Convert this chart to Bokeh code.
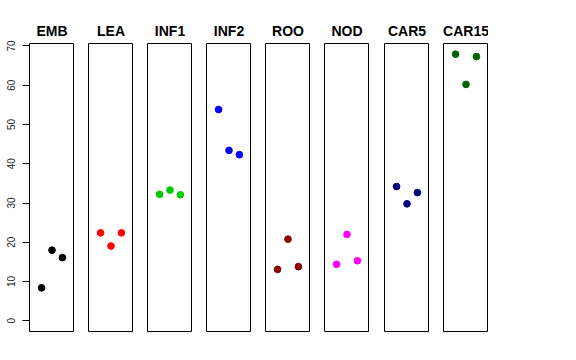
from bokeh.plotting import figure
from bokeh.layouts import row
from bokeh.models import Range1d, FixedTicker
from bokeh.embed import file_html
from bokeh.resources import INLINE

groups = ["EMB", "LEA", "INF1", "INF2", "ROO", "NOD", "CAR5", "CAR15"]
colors = ["#000000", "#FF0000", "#00CD00", "#0000FF", "#8B0000", "#FF00FF", "#000080", "#006400"]
replicate = [1, 2, 3]
emb = [8.4, 18.0, 16.1]
lea = [22.4, 19.05, 22.4]
inf1 = [32.2, 33.3, 32.1]
inf2 = [53.8, 43.4, 42.3]
roo = [13.1, 20.8, 13.8]
nod = [14.4, 22.0, 15.3]
car5 = [34.2, 29.8, 32.65]
car15 = [67.9, 60.2, 67.3]
series = [emb, lea, inf1, inf2, roo, nod, car5, car15]
y_ticks = [0, 10, 20, 30, 40, 50, 60, 70]

ymax = max(max(s) for s in series)
ymin = 0
yr = ymax - ymin

left_borders = [29, 14, 14, 14, 14, 14, 15, 14]

figs = []
for i, (g, c, vals) in enumerate(zip(groups, colors, series)):
    p = figure(
        frame_width=45, frame_height=288,
        output_backend="svg", toolbar_location=None,
        x_range=Range1d(-0.16, 4.16),
        y_range=Range1d(ymin - 0.04 * yr, ymax + 0.04 * yr),
        x_axis_location=None,
        y_axis_location="left" if i == 0 else None,
        min_border_left=left_borders[i], min_border_right=0,
        min_border_top=43, min_border_bottom=5,
        title=g,
    )
    p.title.align = "center"
    p.title.text_font = "Liberation Sans"
    p.title.text_font_style = "bold"
    p.title.text_font_size = "14px"
    p.title.text_color = "#000000"
    p.title.standoff = 9
    p.grid.visible = False
    p.outline_line_color = "#000000"
    p.outline_line_width = 1
    p.background_fill_color = "white"
    p.border_fill_color = "white"
    if i == 0:
        ax = p.yaxis[0]
        ax.ticker = FixedTicker(ticks=y_ticks)
        ax.major_label_orientation = "vertical"
        ax.major_label_text_font = "Liberation Sans"
        ax.major_label_text_font_size = "10px"
        ax.major_label_text_color = "#222222"
        ax.major_tick_out = 7
        ax.major_tick_in = 0
        ax.minor_tick_line_color = None
        ax.axis_line_color = None
        ax.major_tick_line_color = "#000000"
        ax.major_label_standoff = 7
    p.scatter(replicate, vals, size=6.7, color=c, line_color=c)
    figs.append(p)

layout = row(*figs, spacing=0)
open("out.html", "w").write(file_html(layout, INLINE))
